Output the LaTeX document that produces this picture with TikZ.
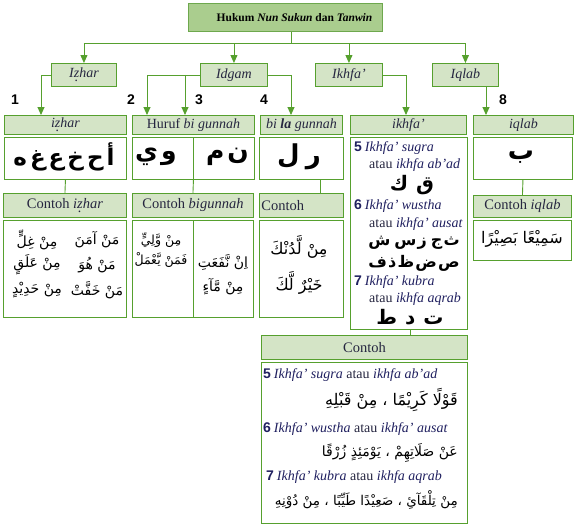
\documentclass[tikz,border=0pt]{standalone}
\usepackage{fontspec}
\setmainfont{Liberation Serif}
\newfontfamily\arfont[Script=Arabic]{DejaVu Sans}
\newfontfamily\numfont{Liberation Sans}
\usetikzlibrary{arrows.meta}
\TeXXeTstate=1
\definecolor{gline}{RGB}{86,160,46}
\definecolor{gfill}{RGB}{212,228,198}
\definecolor{tfill}{RGB}{170,205,142}
\definecolor{tline}{RGB}{110,168,78}
\definecolor{ink}{RGB}{38,38,64}
\definecolor{navy}{RGB}{32,32,96}
\newcommand\arf[1]{\arfont\fontsize{#1}{#1}\selectfont}
\newcommand\zd{\ooalign{z\cr\hidewidth\raisebox{-.55ex}{.}\hidewidth\cr}}
\newcommand\NUM[1]{{\numfont\bfseries #1}}
\newcommand\gp{\hspace{3pt}}
\newcommand\tg{\hspace{1.2pt}}
\begin{document}
\begin{tikzpicture}[x=1pt,y=-1pt,
  tbox/.style={draw=tline,line width=1pt,fill=tfill,inner sep=0,anchor=north west,font=\fontsize{11.5}{14}\selectfont},
  lbox/.style={draw=gline,line width=0.9pt,fill=gfill,inner sep=0,anchor=north west,text=ink,font=\fontsize{14}{16}\selectfont},
  ebox/.style={lbox,font=\fontsize{14.5}{16}\selectfont},
  cbox/.style={draw=gline,line width=0.9pt,fill=white,inner sep=0,anchor=north west},
  conn/.style={draw=gline,line width=0.9pt},
  arr/.style={conn,-{Triangle[width=7pt,length=8pt]}},
  numlab/.style={inner sep=0,font=\numfont\bfseries\fontsize{14}{14}\selectfont},
  artxt/.style={inner sep=0},
  ltxt/.style={inner sep=0,anchor=west,text=navy,font=\fontsize{14}{16}\selectfont}]
\fill[white] (0,0) rectangle (575,525);
\useasboundingbox (0,0) rectangle (575,525);
% title
\node[tbox,minimum width=194pt,minimum height=28pt] (title) at (188,3) {\hspace*{18pt}\textbf{Hukum \textit{Nun Sukun} dan \textit{Tanwin}}};
% level 2
\node[lbox,minimum width=65pt,minimum height=23pt] (izhar) at (51,63) {\textit{I\zd har}};
\node[lbox,minimum width=67pt,minimum height=23pt] (idgam) at (200,63) {\textit{Idgam}};
\node[lbox,minimum width=67pt,minimum height=23pt] (ikhfa) at (315,63) {\textit{Ikhfa’}};
\node[lbox,minimum width=66pt,minimum height=23pt] (iqlab) at (432,63) {\textit{Iqlab}};
% headers
\node[lbox,minimum width=122pt,minimum height=19pt] (h1) at (4,115) {\textit{i\zd har}};
\node[lbox,minimum width=122pt,minimum height=19pt] (h2) at (132,115) {Huruf \textit{bi gunnah}};
\node[lbox,minimum width=82pt,minimum height=19pt] (h3) at (260,115) {\textit{bi \textbf{la} gunnah}};
\node[lbox,minimum width=116pt,minimum height=19pt] (h4) at (350,115) {\textit{ikhfa’}};
\node[lbox,minimum width=100pt,minimum height=19pt] (h5) at (473,115) {\textit{iqlab}};
% content boxes
\node[cbox,minimum width=122pt,minimum height=42pt] (c1) at (4,137) {};
\node[cbox,minimum width=122pt,minimum height=42pt] (c2) at (132,137) {};
\node[cbox,minimum width=84pt,minimum height=42pt] (c3) at (259,137) {};
\node[cbox,minimum width=117pt,minimum height=192pt] (c4) at (350,137) {};
\node[cbox,minimum width=99pt,minimum height=42pt] (c5) at (473,137) {};
% contoh headers
\node[ebox,minimum width=123pt,minimum height=24pt] (e1) at (3,193) {Contoh \textit{i\zd har}};
\node[ebox,minimum width=121pt,minimum height=24pt] (e2) at (132,193) {Contoh \textit{bigunnah}};
\node[ebox,minimum width=84pt,minimum height=24pt,text width=80pt,align=left] (e3) at (259,193) {Contoh};
\node[ebox,minimum width=98pt,minimum height=22pt] (e5) at (473,195) {Contoh \textit{iqlab}};
% contoh contents
\node[cbox,minimum width=123pt,minimum height=97pt] (f1) at (3,220) {};
\node[cbox,minimum width=121pt,minimum height=97pt] (f2) at (132,220) {};
\node[cbox,minimum width=84pt,minimum height=97pt] (f3) at (259,220) {};
\node[cbox,minimum width=98pt,minimum height=40pt] (f5) at (473,220) {};
% bottom contoh
\node[ebox,minimum width=206pt,minimum height=24pt] (gh) at (261,335) {Contoh};
\node[cbox,minimum width=206pt,minimum height=161pt] (g) at (261,362) {};
% split lines
\draw[conn] (c2.north) -- (c2.south);
\draw[conn] (f2.north) -- (f2.south);
% coordinates
\coordinate (bus) at (291,43);
\coordinate (t1) at (41,115);
\coordinate (t2) at (147,115);
\coordinate (t3) at (185,115);
\coordinate (t4) at (291,115);
\coordinate (t5) at (406,115);
\coordinate (t8) at (486,115);
\coordinate (k3) at (320,185);
\coordinate (k4) at (410,330);
% connectors top
\draw[conn] (title.south -| bus) -- (bus);
\draw[conn] (izhar.north |- bus) -- (iqlab.north |- bus);
\draw[arr] (izhar.north |- bus) -- (izhar.north);
\draw[arr] (idgam.north |- bus) -- (idgam.north);
\draw[arr] (ikhfa.north |- bus) -- (ikhfa.north);
\draw[arr] (iqlab.north |- bus) -- (iqlab.north);
\draw[arr] (izhar.west) -| (t1);
\draw[arr] (idgam.west) -| (t2);
\draw[arr] (t3 |- idgam.west) -- (t3);
\draw[arr] (idgam.east) -| (t4);
\draw[arr] (ikhfa.east) -| (t5);
\draw[arr] (iqlab.south -| t8) -- (t8);
% lower connectors
\draw[conn] (c1.south) -- (e1.north);
\draw[conn] (c2.south) -- (e2.north);
\draw[conn] (c3.south -| k3) -- (e3.north -| k3);
\draw[conn] (c5.south) -- (e5.north);
\draw[conn] (c4.south -| k4) -- (gh.north -| k4);
% numbers
\node[numlab] (n1) at (15,100) {1};
\node[numlab] (n2) at (131,100) {2};
\node[numlab] (n3) at (199,100) {3};
\node[numlab] (n4) at (264,100) {4};
\node[numlab] (n8) at (503,100) {8};
% arabic letters
\node[artxt] (a1) at (64,157) {\arf{23}\bfseries\beginR أ\gp ح\gp خ\gp ع\gp غ\gp ه\endR};
\node[artxt,anchor=west] (a2l) at (135,157) {\arf{25}\bfseries\beginR و\gp ي\endR};
\node[artxt,anchor=east] (a2r) at (249,157) {\arf{25}\bfseries\beginR ن\gp م\endR};
\node[artxt] (a3) at (299,157) {\arf{26}\bfseries\beginR ر\hspace{6pt}ل\endR};
\node[artxt] (a5) at (521,157) {\arf{26}\bfseries\beginR ب\endR};
% ikhfa box
\node[ltxt] (i5a) at (354,148) {\NUM{5}\hspace{3pt}\textit{Ikhfa’ sugra}};
\node[ltxt] (i5b) at (369,165) {{\color{ink}atau} \textit{ikhfa ab’ad}};
\node[artxt] (i5c) at (412,185) {\arf{20}\bfseries\beginR ق\hspace{8pt}ك\endR};
\node[ltxt] (i6a) at (354,206) {\NUM{6}\hspace{3pt}\textit{Ikhfa’ wustha}};
\node[ltxt] (i6b) at (369,224) {{\color{ink}atau} \textit{ikhfa’ ausat}};
\node[artxt] (i6c) at (414,243) {\arf{16}\bfseries\beginR ث\tg ج\hspace{4pt}ز\tg س\hspace{4pt}ش\endR};
\node[artxt] (i6d) at (414,263) {\arf{16}\bfseries\beginR ص\tg ض\tg ظ\tg ذ\tg ف\endR};
\node[ltxt] (i7a) at (354,282) {\NUM{7}\hspace{3pt}\textit{Ikhfa’ kubra}};
\node[ltxt] (i7b) at (369,299) {{\color{ink}atau} \textit{ikhfa aqrab}};
\node[artxt] (i7c) at (410,317) {\arf{20}\bfseries\beginR ت\hspace{8pt}د\hspace{8pt}ط\endR};
% contoh izhar
\node[artxt] (x1r) at (97,240) {\arf{14}\beginR مَنْ آمَنَ\endR};
\node[artxt] (x2r) at (97,265) {\arf{14}\beginR مَنْ هُوَ\endR};
\node[artxt] (x3r) at (97,290) {\arf{14}\beginR مَنْ خَفَّتْ\endR};
\node[artxt] (x1l) at (37,240) {\arf{14}\beginR مِنْ غِلٍّ\endR};
\node[artxt] (x2l) at (37,265) {\arf{14}\beginR مِنْ عَلَقٍ\endR};
\node[artxt] (x3l) at (37,290) {\arf{14}\beginR مِنْ حَدِيْدٍ\endR};
% contoh bigunnah
\node[artxt] (y1l) at (161,240) {\arf{12.5}\beginR مِنْ وَّلِيٍّ\endR};
\node[artxt] (y2l) at (161,260) {\arf{12.5}\beginR فَمَنْ يَّعْمَلْ\endR};
\node[artxt] (y1r) at (223,262) {\arf{14}\beginR اِنْ نَّفَعَتِ\endR};
\node[artxt] (y2r) at (223,287) {\arf{14}\beginR مِنْ مَّآءٍ\endR};
% contoh bila gunnah
\node[artxt] (z1) at (299,247) {\arf{16}\beginR مِنْ لَّدُنْكَ\endR};
\node[artxt] (z2) at (299,283) {\arf{16}\beginR خَيْرٌ لَّكَ\endR};
% contoh iqlab
\node[artxt] (q1) at (522,239) {\arf{16}\beginR سَمِيْعًا بَصِيْرًا\endR};
% bottom contoh content
\node[ltxt] (g5a) at (263,375) {\NUM{5}\hspace{3pt}\textit{Ikhfa’ sugra} {\color{ink}atau} \textit{ikhfa ab’ad}};
\node[artxt,anchor=east] (g5b) at (458,400) {\arf{16}\beginR قَوْلًا كَرِيْمًا ، مِنْ قَبْلِهِ\endR};
\node[ltxt] (g6a) at (263,429) {\NUM{6}\hspace{3pt}\textit{Ikhfa’ wustha} {\color{ink}atau} \textit{ikhfa’ ausat}};
\node[artxt,anchor=east] (g6b) at (458,453) {\arf{14}\beginR عَنْ صَلَاتِهِمْ ، يَوْمَئِذٍ زُرْقًا\endR};
\node[ltxt] (g7a) at (266,477) {\NUM{7}\hspace{3pt}\textit{Ikhfa’ kubra} {\color{ink}atau} \textit{ikhfa aqrab}};
\node[artxt,anchor=east] (g7b) at (458,500) {\arf{13.5}\beginR مِنْ تِلْقَآئِ ، صَعِيْدًا طَيِّبًا ، مِنْ دُوْنِهِ\endR};
\end{tikzpicture}
\end{document}
